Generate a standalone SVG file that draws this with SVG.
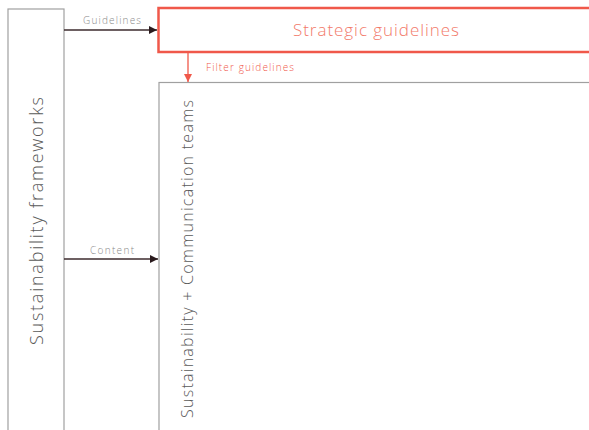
<svg xmlns="http://www.w3.org/2000/svg" width="589" height="430" viewBox="0 0 589 430">
  <style>
    .box { fill: #fff; stroke: #a0a0a0; stroke-width: 1.2; }
    .red { fill: #fff; stroke: #f0584a; stroke-width: 2.5; }
    .lbl { font-family: "Open Sans", Lato, sans-serif; font-weight: 300; }
    .small { font-size: 10px; fill: #8a8a8a; }
    .dark { stroke: #3d2b2e; stroke-width: 1.3; fill: none; }
    .redl { stroke: #f0584a; stroke-width: 1.3; fill: none; }
  </style>
  <defs>
    <marker id="ah-dark" viewBox="0 0 10 10" refX="10" refY="5" markerWidth="8" markerHeight="8" markerUnits="userSpaceOnUse" orient="auto">
      <path d="M0,0 L10,5 L0,10 z" fill="#2a1a1d"/>
    </marker>
    <marker id="ah-red" viewBox="0 0 10 10" refX="10" refY="5" markerWidth="8" markerHeight="8" markerUnits="userSpaceOnUse" orient="auto">
      <path d="M0,0 L10,5 L0,10 z" fill="#f0584a"/>
    </marker>
  </defs>
  <rect width="589" height="430" fill="#fff"/>

  <g id="frameworks">
    <rect class="box" x="8" y="9" width="56" height="430"/>
    <text class="lbl" transform="translate(43,221) rotate(-90)" text-anchor="middle" font-size="18" fill="#5a5a5a" textLength="248" lengthAdjust="spacing">Sustainability frameworks</text>
  </g>

  <g id="strategic">
    <rect class="red" x="158.5" y="8" width="440" height="44"/>
    <text class="lbl" x="376" y="36" text-anchor="middle" font-size="17" fill="#f27a6a" textLength="166" lengthAdjust="spacing">Strategic guidelines</text>
  </g>

  <g id="teams">
    <rect class="box" x="159" y="82.5" width="440" height="360"/>
    <text class="lbl" transform="translate(193,259) rotate(-90)" text-anchor="middle" font-size="16" fill="#5a5a5a" textLength="318" lengthAdjust="spacing">Sustainability + Communication teams</text>
  </g>

  <g id="connectors">
    <line class="dark" x1="64" y1="30" x2="157" y2="30" marker-end="url(#ah-dark)"/>
    <text class="lbl small" x="112" y="24" text-anchor="middle" textLength="58" lengthAdjust="spacing">Guidelines</text>
    <line class="redl" x1="188" y1="52" x2="188" y2="82" marker-end="url(#ah-red)"/>
    <text class="lbl" x="206" y="71" font-size="10" fill="#f0584a" textLength="88" lengthAdjust="spacing">Filter guidelines</text>
    <line class="dark" x1="64" y1="259" x2="158" y2="259" marker-end="url(#ah-dark)"/>
    <text class="lbl small" x="112" y="254" text-anchor="middle" textLength="44" lengthAdjust="spacing">Content</text>
  </g>
</svg>
